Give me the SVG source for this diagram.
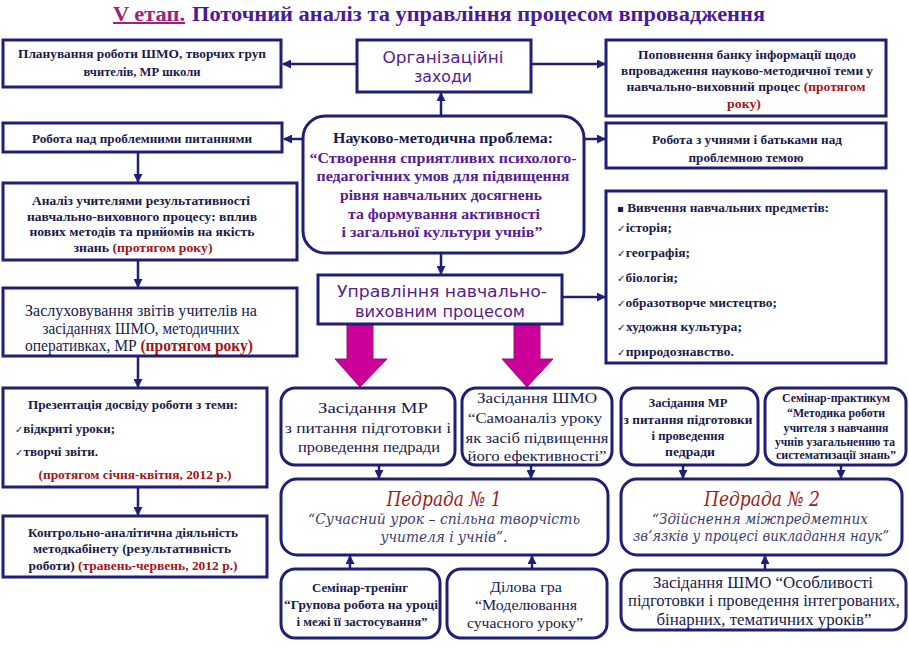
<svg xmlns="http://www.w3.org/2000/svg" width="909" height="646" viewBox="0 0 909 646" font-family="Liberation Serif, Times New Roman, serif">
<defs>
<marker id="ah" markerUnits="userSpaceOnUse" markerWidth="9" markerHeight="9" refX="8" refY="4.5" orient="auto">
<path d="M0,0 L9,4.5 L0,9 z" fill="#1f1f75"/>
</marker>
<style>
.box{fill:#fff;stroke:#1f1f75;stroke-width:3}
.con line{stroke:#1f1f75;stroke-width:2.5;marker-end:url(#ah)}
.big{fill:#cc0099;stroke:#8a1a7a;stroke-width:1}
text{fill:#1a1a4a;text-anchor:middle}
.b{font-weight:bold;font-size:13px}
.bs{font-weight:bold;font-size:12px}
.n{font-size:15px}
.st{text-anchor:start}
.r{fill:#a31515;font-weight:bold}
.p{fill:#55208f}
.sans{font-family:'DejaVu Sans',sans-serif;fill:#55208f;font-size:15px}
.ped{font-style:italic;fill:#9b1c1c;font-size:20px}
.pedt{font-style:italic;fill:#3c3c6e;font-size:14px}
.ck{font-family:'DejaVu Sans',sans-serif;font-weight:normal;font-size:10px}
</style>
</defs>
<rect width="909" height="646" fill="#fff"/>

<g id="title">
<text x="113" y="21" class="st" style="font-weight:bold;font-size:20px;fill:#a0207a;text-decoration:underline" textLength="72" lengthAdjust="spacingAndGlyphs">V етап.</text>
<text x="192" y="21" class="st" style="font-weight:bold;font-size:20px;fill:#4b1a96" textLength="573" lengthAdjust="spacingAndGlyphs">Поточний аналіз та управління процесом впровадження</text>
</g>

<g id="connectors" class="con">
<line x1="357" y1="64" x2="283" y2="64"/>
<line x1="531" y1="64" x2="605" y2="64"/>
<line x1="441" y1="116" x2="441" y2="93"/>
<line x1="303" y1="139" x2="284" y2="139"/>
<line x1="584" y1="139" x2="605" y2="139"/>
<line x1="441" y1="253" x2="441" y2="274"/>
<line x1="562" y1="297" x2="605" y2="297"/>
<line x1="138" y1="152" x2="138" y2="182"/>
<line x1="138" y1="261" x2="138" y2="287"/>
<line x1="138" y1="357" x2="138" y2="387"/>
<line x1="138" y1="488" x2="138" y2="515"/>
<line x1="379" y1="466" x2="379" y2="478"/>
<line x1="531" y1="466" x2="531" y2="478"/>
<line x1="350" y1="569" x2="350" y2="556"/>
<line x1="532" y1="569" x2="532" y2="556"/>
<line x1="683" y1="466" x2="683" y2="478"/>
<line x1="841" y1="466" x2="841" y2="478"/>
<line x1="765" y1="570" x2="765" y2="556"/>
<polygon class="big" points="347,325 373,325 373,359 387,359 360,387 335,359 347,359"/>
<polygon class="big" points="514,325 540,325 540,359 553,359 527,387 502,359 514,359"/>
</g>

<g id="plan">
<rect class="box" x="3" y="40" width="278" height="47"/>
<text class="b" x="142" y="58" textLength="248" lengthAdjust="spacingAndGlyphs">Планування роботи ШМО, творчих груп</text>
<text class="b" x="142" y="76" textLength="117" lengthAdjust="spacingAndGlyphs">вчителів, МР школи</text>
</g>

<g id="org">
<rect class="box" x="357" y="40" width="174" height="52"/>
<text class="sans" x="443" y="63" textLength="121" lengthAdjust="spacingAndGlyphs">Організаційні</text>
<text class="sans" x="443" y="82" textLength="58" lengthAdjust="spacingAndGlyphs">заходи</text>
</g>

<g id="bank">
<rect class="box" x="606" y="40" width="280" height="76"/>
<text class="b" x="747" y="59" textLength="218" lengthAdjust="spacingAndGlyphs">Поповнення банку інформації щодо</text>
<text class="b" x="747" y="75" textLength="252" lengthAdjust="spacingAndGlyphs">впровадження науково-методичної теми у</text>
<text class="b" x="746" y="91" textLength="239" lengthAdjust="spacingAndGlyphs">навчально-виховний процес <tspan class="r">(протягом</tspan></text>
<text class="b r" x="744" y="108" textLength="34" lengthAdjust="spacingAndGlyphs">року)</text>
</g>

<g id="problems">
<rect class="box" x="3" y="123" width="279" height="29"/>
<text class="b" x="142" y="143" textLength="220" lengthAdjust="spacingAndGlyphs">Робота над проблемними питаннями</text>
</g>

<g id="problem">
<rect class="box" x="303" y="116" width="281" height="137" rx="22"/>
<text class="b" style="font-size:14.5px" x="443" y="143" textLength="220" lengthAdjust="spacingAndGlyphs">Науково-методична проблема:</text>
<text class="b p" style="font-size:14.5px" x="443" y="163" textLength="267" lengthAdjust="spacingAndGlyphs">“Створення сприятливих психолого-</text>
<text class="b p" style="font-size:14.5px" x="443" y="181" textLength="253" lengthAdjust="spacingAndGlyphs">педагогічних умов для підвищення</text>
<text class="b p" style="font-size:14.5px" x="441" y="200" textLength="202" lengthAdjust="spacingAndGlyphs">рівня навчальних досягнень</text>
<text class="b p" style="font-size:14.5px" x="444" y="219" textLength="192" lengthAdjust="spacingAndGlyphs">та формування активності</text>
<text class="b p" style="font-size:14.5px" x="442" y="237" textLength="201" lengthAdjust="spacingAndGlyphs">і загальної культури учнів”</text>
</g>

<g id="parents">
<rect class="box" x="606" y="123" width="280" height="45"/>
<text class="b" x="747" y="144" textLength="190" lengthAdjust="spacingAndGlyphs">Робота з учнями і батьками над</text>
<text class="b" x="746" y="162" textLength="115" lengthAdjust="spacingAndGlyphs">проблемною темою</text>
</g>

<g id="analysis">
<rect class="box" x="3" y="183" width="294" height="77"/>
<text class="b" x="141" y="205" textLength="218" lengthAdjust="spacingAndGlyphs">Аналіз учителями результативності</text>
<text class="b" x="142" y="221" textLength="230" lengthAdjust="spacingAndGlyphs">навчально-виховного процесу: вплив</text>
<text class="b" x="142" y="236" textLength="225" lengthAdjust="spacingAndGlyphs">нових методів та прийомів на якість</text>
<text class="b" x="143" y="252" textLength="139" lengthAdjust="spacingAndGlyphs">знань <tspan class="r">(протягом року)</tspan></text>
</g>

<g id="subjects">
<rect class="box" x="606" y="191" width="280" height="172"/>
<text class="b st" x="617" y="212" textLength="212" lengthAdjust="spacingAndGlyphs"><tspan class="ck">▪</tspan> Вивчення навчальних предметів:</text>
<text class="b st" x="617" y="232" textLength="55" lengthAdjust="spacingAndGlyphs"><tspan class="ck">✓</tspan>історія;</text>
<text class="b st" x="617" y="257" textLength="73" lengthAdjust="spacingAndGlyphs"><tspan class="ck">✓</tspan>географія;</text>
<text class="b st" x="617" y="282" textLength="61" lengthAdjust="spacingAndGlyphs"><tspan class="ck">✓</tspan>біологія;</text>
<text class="b st" x="617" y="307" textLength="160" lengthAdjust="spacingAndGlyphs"><tspan class="ck">✓</tspan>образотворче мистецтво;</text>
<text class="b st" x="617" y="331" textLength="125" lengthAdjust="spacingAndGlyphs"><tspan class="ck">✓</tspan>художня культура;</text>
<text class="b st" x="617" y="356" textLength="117" lengthAdjust="spacingAndGlyphs"><tspan class="ck">✓</tspan>природознавство.</text>
</g>

<g id="management">
<rect class="box" x="318" y="275" width="244" height="49"/>
<text class="sans" style="font-size:15.5px" x="442" y="297" textLength="210" lengthAdjust="spacingAndGlyphs">Управління навчально-</text>
<text class="sans" style="font-size:15.5px" x="440" y="317" textLength="170" lengthAdjust="spacingAndGlyphs">виховним процесом</text>
</g>

<g id="reports">
<rect class="box" x="3" y="288" width="294" height="68"/>
<text class="n" style="font-size:16px" x="141" y="316" textLength="232" lengthAdjust="spacingAndGlyphs">Заслуховування звітів учителів на</text>
<text class="n" style="font-size:16px" x="141" y="334" textLength="197" lengthAdjust="spacingAndGlyphs">засіданнях ШМО, методичних</text>
<text class="n" style="font-size:16px" x="139" y="351" textLength="228" lengthAdjust="spacingAndGlyphs">оперативках, МР <tspan class="r">(протягом року)</tspan></text>
</g>

<g id="presentation">
<rect class="box" x="3" y="388" width="264" height="99"/>
<text class="b" x="133" y="409" textLength="210" lengthAdjust="spacingAndGlyphs">Презентація досвіду роботи з теми:</text>
<text class="b st" x="15" y="433" textLength="100" lengthAdjust="spacingAndGlyphs"><tspan class="ck">✓</tspan>відкриті уроки;</text>
<text class="b st" x="15" y="456" textLength="83" lengthAdjust="spacingAndGlyphs"><tspan class="ck">✓</tspan>творчі звіти.</text>
<text class="b r" x="135" y="479" textLength="193" lengthAdjust="spacingAndGlyphs">(протягом січня-квітня, 2012 р.)</text>
</g>

<g id="control">
<rect class="box" x="3" y="516" width="264" height="61"/>
<text class="b" x="133" y="537" textLength="210" lengthAdjust="spacingAndGlyphs">Контрольно-аналітична діяльність</text>
<text class="b" x="132" y="553" textLength="198" lengthAdjust="spacingAndGlyphs">методкабінету (результативність</text>
<text class="b" x="133" y="570" textLength="209" lengthAdjust="spacingAndGlyphs">роботи) <tspan class="r">(травень-червень, 2012 р.)</tspan></text>
</g>

<g id="mr1">
<rect class="box" x="281" y="388" width="174" height="77" rx="14"/>
<text class="n" x="373" y="413" textLength="110" lengthAdjust="spacingAndGlyphs">Засідання МР</text>
<text class="n" x="368" y="433" textLength="166" lengthAdjust="spacingAndGlyphs">з питання підготовки і</text>
<text class="n" x="369" y="452" textLength="142" lengthAdjust="spacingAndGlyphs">проведення педради</text>
</g>

<g id="shmo1">
<rect class="box" x="462" y="388" width="150" height="77" rx="14"/>
<text class="n" x="537" y="403" textLength="120" lengthAdjust="spacingAndGlyphs">Засідання ШМО</text>
<text class="n" x="535" y="423" textLength="134" lengthAdjust="spacingAndGlyphs">“Самоаналіз уроку</text>
<text class="n" x="537" y="443" textLength="143" lengthAdjust="spacingAndGlyphs">як засіб підвищення</text>
<text class="n" x="537" y="461" textLength="139" lengthAdjust="spacingAndGlyphs">його ефективності”</text>
</g>

<g id="pedrada1" font-family="DejaVu Serif, serif">
<rect class="box" x="281" y="479" width="327" height="76" rx="16"/>
<text class="ped" x="444" y="506" textLength="115" lengthAdjust="spacingAndGlyphs">Педрада № 1</text>
<text class="pedt" x="444" y="524" textLength="272" lengthAdjust="spacingAndGlyphs">“Сучасний урок – спільна творчість</text>
<text class="pedt" x="444" y="542" textLength="127" lengthAdjust="spacingAndGlyphs">учителя і учнів”.</text>
</g>

<g id="training">
<rect class="box" x="281" y="569" width="159" height="69" rx="14"/>
<text class="bs" x="360" y="592" textLength="96" lengthAdjust="spacingAndGlyphs">Семінар-тренінг</text>
<text class="bs" x="361" y="609" textLength="154" lengthAdjust="spacingAndGlyphs">“Групова робота на уроці</text>
<text class="bs" x="362" y="626" textLength="131" lengthAdjust="spacingAndGlyphs">і межі її застосування”</text>
</g>

<g id="game">
<rect class="box" x="447" y="569" width="160" height="69" rx="14"/>
<text class="n" x="526" y="592" textLength="72" lengthAdjust="spacingAndGlyphs">Ділова гра</text>
<text class="n" x="526" y="610" textLength="102" lengthAdjust="spacingAndGlyphs">“Моделювання</text>
<text class="n" x="525" y="628" textLength="116" lengthAdjust="spacingAndGlyphs">сучасного уроку”</text>
</g>

<g id="mr2">
<rect class="box" x="621" y="388" width="137" height="77" rx="14"/>
<text class="bs" x="688" y="407" textLength="79" lengthAdjust="spacingAndGlyphs">Засідання МР</text>
<text class="bs" x="688" y="424" textLength="129" lengthAdjust="spacingAndGlyphs">з питання підготовки</text>
<text class="bs" x="688" y="440" textLength="73" lengthAdjust="spacingAndGlyphs">і проведення</text>
<text class="bs" x="690" y="456" textLength="50" lengthAdjust="spacingAndGlyphs">педради</text>
</g>

<g id="practicum">
<rect class="box" x="765" y="388" width="141" height="77" rx="14"/>
<text class="bs" style="font-size:11.5px" x="836" y="402" textLength="108" lengthAdjust="spacingAndGlyphs">Семінар-практикум</text>
<text class="bs" style="font-size:11.5px" x="836" y="417" textLength="98" lengthAdjust="spacingAndGlyphs">“Методика роботи</text>
<text class="bs" style="font-size:11.5px" x="836" y="432" textLength="105" lengthAdjust="spacingAndGlyphs">учителя з навчання</text>
<text class="bs" style="font-size:11.5px" x="835" y="446" textLength="120" lengthAdjust="spacingAndGlyphs">учнів узагальненню та</text>
<text class="bs" style="font-size:11.5px" x="836" y="459" textLength="120" lengthAdjust="spacingAndGlyphs">систематизації знань”</text>
</g>

<g id="pedrada2" font-family="DejaVu Serif, serif">
<rect class="box" x="621" y="479" width="281" height="76" rx="16"/>
<text class="ped" x="762" y="506" textLength="116" lengthAdjust="spacingAndGlyphs">Педрада № 2</text>
<text class="pedt" x="760" y="524" textLength="216" lengthAdjust="spacingAndGlyphs">“Здійснення міжпредметних</text>
<text class="pedt" x="761" y="541" textLength="256" lengthAdjust="spacingAndGlyphs">зв’язків у процесі викладання наук”</text>
</g>

<g id="shmo2">
<rect class="box" x="621" y="570" width="285" height="60" rx="14"/>
<text class="n" style="font-size:16px" x="763" y="588" textLength="220" lengthAdjust="spacingAndGlyphs">Засідання ШМО “Особливості</text>
<text class="n" style="font-size:16px" x="764" y="606" textLength="272" lengthAdjust="spacingAndGlyphs">підготовки і проведення інтегрованих,</text>
<text class="n" style="font-size:16px" x="764" y="625" textLength="215" lengthAdjust="spacingAndGlyphs">бінарних, тематичних уроків”</text>
</g>
</svg>
